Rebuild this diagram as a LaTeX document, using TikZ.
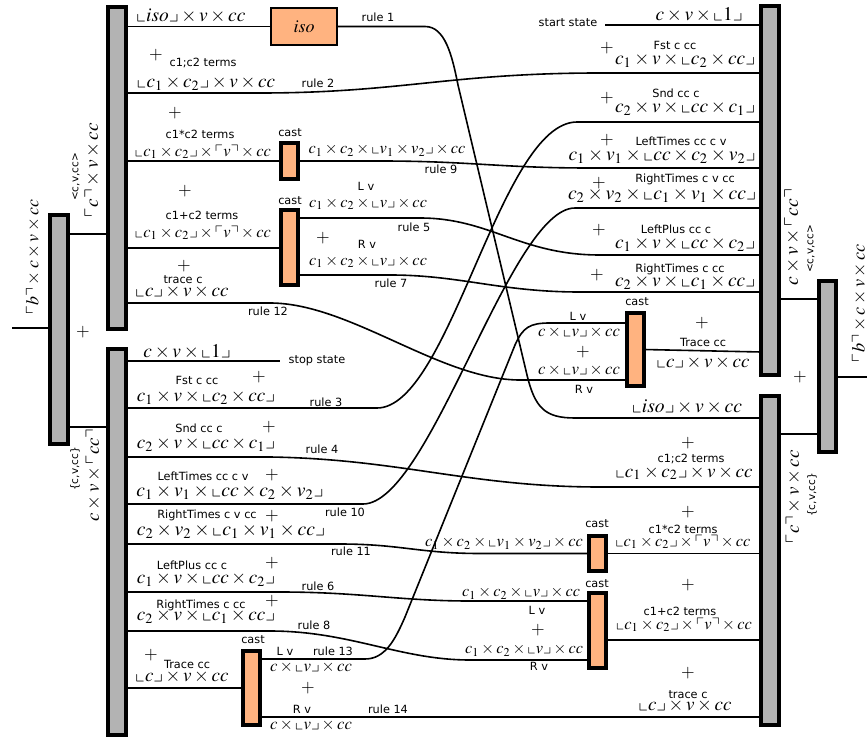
\documentclass[tikz,border=0pt]{standalone}
\usepackage{mathptmx}
\usepackage{amssymb}
\usepackage{graphicx}
\usepackage{fontspec}
\setsansfont{DejaVu Sans}
\definecolor{barfill}{RGB}{179,179,179}
\definecolor{castfill}{RGB}{255,179,128}
\newcommand{\mlab}[2]{\resizebox{#1pt}{!}{$#2$}}
\newcommand{\lc}{\llcorner}
\newcommand{\rc}{\lrcorner}
\newcommand{\ulc}{\ulcorner}
\newcommand{\urc}{\urcorner}
\begin{document}
\begin{tikzpicture}[x=1pt,y=-1pt,
  conn/.style={line width=1.6pt},
  graybar/.style={draw,fill=barfill,line width=3.5pt,inner sep=0,outer sep=0,minimum width=18pt},
  castbox/.style={draw,fill=castfill,line width=3.5pt,inner sep=0,outer sep=0,minimum width=17pt},
  isobox/.style={draw,fill=castfill,line width=1.3pt,inner sep=0,outer sep=0},
  lbl/.style={font=\sffamily\fontsize{11.3}{13}\selectfont,inner sep=0},
  slbl/.style={font=\sffamily\fontsize{10.5}{12}\selectfont,inner sep=0},
  mt/.style={inner sep=0},
  pls/.style={font=\fontsize{17.5}{20}\selectfont,inner sep=0}]
\useasboundingbox (0,0) rectangle (867,738);

% bars
\node[graybar,minimum height=229pt] (bl) at (59,329.5) {};
\node[graybar,minimum height=322pt] (ul) at (117,168) {};
\node[graybar,minimum height=386pt] (ll) at (117,542) {};
\node[graybar,minimum height=369pt] (ur) at (770,190.5) {};
\node[graybar,minimum height=329pt] (lr) at (770,560.5) {};
\node[graybar,minimum width=17pt,minimum height=171pt] (br) at (827.5,366.5) {};

% cast boxes
\node[castbox,minimum height=36pt] (c1) at (289.5,161) {};
\node[castbox,minimum height=75pt] (c2) at (289.5,247.5) {};
\node[castbox,minimum height=35pt] (c3) at (597.5,553.5) {};
\node[castbox,minimum height=75pt] (c4) at (597.5,630.5) {};
\node[castbox,minimum height=74pt] (c5) at (251.5,688) {};
\node[castbox,minimum height=73pt] (c6) at (635.5,349.5) {};
\node[isobox,minimum width=66pt,minimum height=37pt,font=\fontsize{18}{20}\selectfont] (iso) at (304,26.5) {$iso$};

% ports
\coordinate (blin) at (50,328);
\coordinate (blout) at (12,328);
\coordinate (blu) at (68,234);
\coordinate (bll) at (68,427);
\coordinate (ulin) at (108,234);
\coordinate (llin) at (108,427);
\coordinate (urout) at (779,299);
\coordinate (lrout) at (779,434);
\coordinate (bru) at (819,299);
\coordinate (brl) at (819,434);
\coordinate (brr) at (836,377);
\coordinate (brout) at (867,377);

\coordinate (ulp1) at (126,26.5);
\coordinate (ulp2) at (126,93);
\coordinate (ulp3) at (126,161);
\coordinate (ulp4) at (126,248);
\coordinate (ulp5) at (126,303);
\coordinate (llp1) at (126,361);
\coordinate (llp2) at (126,408);
\coordinate (llp3) at (126,457);
\coordinate (llp4) at (126,504);
\coordinate (llp5) at (126,544);
\coordinate (llp6) at (126,592);
\coordinate (llp7) at (126,631);
\coordinate (llp8) at (126,688);
\coordinate (urp1) at (761,25);
\coordinate (urp2) at (761,73);
\coordinate (urp3) at (761,122);
\coordinate (urp4) at (761,168);
\coordinate (urp5) at (761,208);
\coordinate (urp6) at (761,255);
\coordinate (urp7) at (761,292);
\coordinate (urp8) at (761,352);
\coordinate (lrp1) at (761,418);
\coordinate (lrp2) at (761,487);
\coordinate (lrp3) at (761,553);
\coordinate (lrp4) at (761,640);
\coordinate (lrp5) at (761,717);
\coordinate (c2L) at (298,218);
\coordinate (c2R) at (298,275);
\coordinate (c4L) at (589,601);
\coordinate (c4R) at (589,660);
\coordinate (c5L) at (260,659);
\coordinate (c5R) at (260,717);
\coordinate (c6L) at (627,323);
\coordinate (c6R) at (627,380);
\coordinate (start) at (605,25);
\coordinate (stop) at (280,361);

% connectors
\draw[conn] (blout) -- (blin);
\draw[conn] (blu) -- (ulin);
\draw[conn] (bll) -- (llin);
\draw[conn] (urout) -- (bru);
\draw[conn] (lrout) -- (brl);
\draw[conn] (brr) -- (brout);

\draw[conn] (ulp1) -- (iso.west);
\draw[conn] (iso.east) -- (425,26.5) .. controls (445,26.5) and (452,55) .. (458,85) -- (527,375) .. controls (535,408) and (545,418) .. (575,418) -- (lrp1);
\draw[conn] (ulp2) -- (260,93) .. controls (400,93) and (450,73) .. (600,73) -- (urp2);
\draw[conn] (ulp3) -- (c1.west);
\draw[conn] (c1.east) -- (380,161) .. controls (470,161) and (500,168) .. (590,168) -- (urp4);
\draw[conn] (ulp4) -- (c2.west |- ulp4);
\draw[conn] (c2L) -- (420,218) .. controls (490,218) and (520,255) .. (600,255) -- (urp6);
\draw[conn] (c2R) -- (390,275) .. controls (460,275) and (500,292) .. (580,292) -- (urp7);
\draw[conn] (ulp5) -- (270,303) .. controls (350,303) and (440,380) .. (520,380) -- (c6R);
\draw[conn] (c6.east) -- (urp8);
\draw[conn] (start) -- (urp1);
\draw[conn] (llp1) -- (stop);
\draw[conn] (llp2) -- (377,408) .. controls (450,408) and (500,122) .. (577,122) -- (urp3);
\draw[conn] (llp3) -- (270,457) .. controls (400,459) and (470,487) .. (600,487) -- (lrp2);
\draw[conn] (llp4) -- (363,504) .. controls (430,504) and (510,208) .. (575,208) -- (urp5);
\draw[conn] (llp5) -- (340,544) .. controls (400,544) and (420,553.5) .. (480,553.5) -- (c3.west);
\draw[conn] (c3.east) -- (lrp3 |- c3.east);
\draw[conn] (llp6) -- (280,592) .. controls (360,592) and (400,601) .. (470,601) -- (c4L);
\draw[conn] (llp7) -- (270,631) .. controls (350,631) and (400,660) .. (470,660) -- (c4R);
\draw[conn] (c4.east |- lrp4) -- (lrp4);
\draw[conn] (llp8) -- (c5.west);
\draw[conn] (c5L) -- (365,659) .. controls (385,659) and (395,640) .. (405,617) -- (515,345) .. controls (523,327) and (530,323) .. (550,323) -- (c6L);
\draw[conn] (c5R) -- (lrp5);

% rotated labels
\node[mt,rotate=90] (rb1) at (33,257) {\mlab{115}{\ulc b\urc\times c\times v\times cc}};
\node[slbl,rotate=90] (rs1) at (76,177) {<c,v,cc>};
\node[mt,rotate=90] (rm1) at (92,170) {\mlab{94}{\ulc c\urc\times v\times cc}};
\node[slbl,rotate=90] (rs2) at (75,469) {\{c,v,cc\}};
\node[mt,rotate=90] (rm2) at (93,475) {\mlab{93}{c\times v\times \ulc cc\urc}};
\node[mt,rotate=90] (rm3) at (792,237) {\mlab{96}{c\times v\times \ulc cc\urc}};
\node[slbl,rotate=90] (rs3) at (811,249) {<c,v,cc>};
\node[mt,rotate=90] (rm4) at (793,497) {\mlab{93}{\ulc c\urc\times v\times cc}};
\node[slbl,rotate=90] (rs4) at (812,495) {\{c,v,cc\}};
\node[mt,rotate=90] (rb2) at (859,303) {\mlab{118}{\ulc b\urc\times c\times v\times cc}};
\node[pls] (pb1) at (83,332) {$+$};
\node[pls] (pb2) at (800,377) {$+$};

% upper left labels
\node[mt] (a1) at (191,16) {\mlab{109}{\lc iso\rc\times v\times cc}};
\node[pls] (a2) at (156,55) {$+$};
\node[lbl] (a3) at (203,63) {c1;c2 terms};
\node[mt] (a4) at (206,83) {\mlab{138}{\lc c_1\times c_2\rc\times v\times cc}};
\node[pls] (a5) at (175,113) {$+$};
\node[lbl] (a6) at (200,134) {c1*c2 terms};
\node[mt] (a7) at (203,152) {\mlab{136}{\lc c_1\times c_2\rc\times \ulc v\urc\times cc}};
\node[pls] (a8) at (185,191) {$+$};
\node[lbl] (a9) at (202,215) {c1+c2 terms};
\node[mt] (a10) at (203,233) {\mlab{136}{\lc c_1\times c_2\rc\times \ulc v\urc\times cc}};
\node[pls] (a11) at (184,266) {$+$};
\node[lbl] (a12) at (183,280) {trace c};
\node[mt] (a13) at (182,292) {\mlab{93}{\lc c\rc\times v\times cc}};

% cast labels
\node[lbl] (k1) at (290,133) {cast};
\node[lbl] (k2) at (290,201) {cast};
\node[lbl] (k3) at (597,524) {cast};
\node[lbl] (k4) at (597,584) {cast};
\node[lbl] (k5) at (253,640) {cast};
\node[lbl] (k6) at (637,302) {cast};

% middle upper labels
\node[mt] (b1) at (387,150) {\mlab{157}{c_1\times c_2\times\lc v_1\times v_2\rc\times cc}};
\node[lbl] (b2) at (441,169) {rule 9};
\node[lbl] (b3) at (366,186) {L v};
\node[mt] (b4) at (368,204) {\mlab{118}{c_1\times c_2\times\lc v\rc\times cc}};
\node[lbl] (b5) at (414,227) {rule 5};
\node[pls] (b6) at (323,238) {$+$};
\node[lbl] (b7) at (367,244) {R v};
\node[mt] (b8) at (368,262) {\mlab{118}{c_1\times c_2\times\lc v\rc\times cc}};
\node[lbl] (b9) at (391,283) {rule 7};
\node[lbl] (b10) at (378,17) {rule 1};
\node[lbl] (b11) at (318,83) {rule 2};
\node[lbl] (b12) at (268,311) {rule 12};

% upper right labels
\node[lbl] (d0) at (568,23) {start state};
\node[mt] (d1) at (699,15) {\mlab{87}{c\times v\times\lc 1\rc}};
\node[pls] (d2) at (607,48) {$+$};
\node[lbl] (d3) at (675,45) {Fst c cc};
\node[mt] (d4) at (685,60) {\mlab{140}{c_1\times v\times\lc c_2\times cc\rc}};
\node[pls] (d5) at (607,98) {$+$};
\node[lbl] (d6) at (676,93) {Snd cc c};
\node[mt] (d7) at (685,108) {\mlab{140}{c_2\times v\times\lc cc\times c_1\rc}};
\node[pls] (d8) at (607,140) {$+$};
\node[lbl] (d9) at (681,141) {LeftTimes cc c v};
\node[mt] (d10) at (662,156) {\mlab{187}{c_1\times v_1\times\lc cc\times c_2\times v_2\rc}};
\node[pls] (d11) at (599,183) {$+$};
\node[lbl] (d12) at (685,179) {RightTimes c v cc};
\node[mt] (d13) at (662,195) {\mlab{188}{c_2\times v_2\times\lc c_1\times v_1\times cc\rc}};
\node[pls] (d14) at (599,230) {$+$};
\node[lbl] (d15) at (676,229) {LeftPlus cc c};
\node[mt] (d16) at (685,244) {\mlab{140}{c_1\times v\times\lc cc\times c_2\rc}};
\node[pls] (d17) at (597,275) {$+$};
\node[lbl] (d18) at (680,269) {RightTimes c cc};
\node[mt] (d19) at (685,282) {\mlab{140}{c_2\times v\times\lc c_1\times cc\rc}};

% cast6 labels
\node[lbl] (e1) at (578,316) {L v};
\node[mt] (e2) at (579,332) {\mlab{82}{c\times\lc v\rc\times cc}};
\node[pls] (e3) at (583,352) {$+$};
\node[mt] (e4) at (579,370) {\mlab{82}{c\times\lc v\rc\times cc}};
\node[lbl] (e5) at (584,389) {R v};
\node[pls] (e6) at (702,323) {$+$};
\node[lbl] (e7) at (703,342) {Trace cc};
\node[mt] (e8) at (703,363) {\mlab{93}{\lc c\rc\times v\times cc}};

% lower right labels
\node[mt] (f1) at (687,407) {\mlab{110}{\lc iso\rc\times v\times cc}};
\node[pls] (f2) at (688,443) {$+$};
\node[lbl] (f3) at (691,459) {c1;c2 terms};
\node[mt] (f4) at (684,473) {\mlab{137}{\lc c_1\times c_2\rc\times v\times cc}};
\node[pls] (f5) at (688,512) {$+$};
\node[lbl] (f6) at (683,529) {c1*c2 terms};
\node[mt] (f7) at (683,542) {\mlab{135}{\lc c_1\times c_2\rc\times \ulc v\urc\times cc}};
\node[pls] (f8) at (688,585) {$+$};
\node[lbl] (f9) at (680,611) {c1+c2 terms};
\node[mt] (f10) at (684,625) {\mlab{136}{\lc c_1\times c_2\rc\times \ulc v\urc\times cc}};
\node[pls] (f11) at (688,673) {$+$};
\node[lbl] (f12) at (688,695) {trace c};
\node[mt] (f13) at (685,706) {\mlab{93}{\lc c\rc\times v\times cc}};

% lower middle labels
\node[mt] (g1) at (504,543) {\mlab{158}{c_1\times c_2\times\lc v_1\times v_2\rc\times cc}};
\node[mt] (g2) at (521,593) {\mlab{118}{c_1\times c_2\times\lc v\rc\times cc}};
\node[lbl] (g3) at (537,610) {L v};
\node[pls] (g4) at (538,630) {$+$};
\node[mt] (g5) at (524,650) {\mlab{118}{c_1\times c_2\times\lc v\rc\times cc}};
\node[lbl] (g6) at (539,666) {R v};
\node[lbl] (g7) at (326,402) {rule 3};
\node[lbl] (g8) at (322,449) {rule 4};
\node[lbl] (g9) at (345,512) {rule 10};
\node[lbl] (g10) at (351,551) {rule 11};
\node[lbl] (g11) at (318,586) {rule 6};
\node[lbl] (g12) at (314,625) {rule 8};
\node[lbl] (g13) at (333,651) {rule 13};
\node[lbl] (g14) at (388,709) {rule 14};
\node[lbl] (g15) at (317,361) {stop state};

% lower left labels
\node[mt] (h1) at (187,352) {\mlab{87}{c\times v\times\lc 1\rc}};
\node[lbl] (h2) at (197,380) {Fst c cc};
\node[pls] (h3) at (259,377) {$+$};
\node[mt] (h4) at (206,397) {\mlab{138}{c_1\times v\times\lc c_2\times cc\rc}};
\node[lbl] (h5) at (199,428) {Snd cc c};
\node[pls] (h6) at (269,427) {$+$};
\node[mt] (h7) at (206,444) {\mlab{138}{c_2\times v\times\lc cc\times c_1\rc}};
\node[lbl] (h8) at (203,476) {LeftTimes cc c v};
\node[pls] (h9) at (272,475) {$+$};
\node[mt] (h10) at (230,492) {\mlab{187}{c_1\times v_1\times\lc cc\times c_2\times v_2\rc}};
\node[lbl] (h11) at (207,515) {RightTimes c v cc};
\node[pls] (h12) at (272,516) {$+$};
\node[mt] (h13) at (231,531) {\mlab{188}{c_2\times v_2\times\lc c_1\times v_1\times cc\rc}};
\node[lbl] (h14) at (192,565) {LeftPlus cc c};
\node[pls] (h15) at (272,563) {$+$};
\node[mt] (h16) at (206,579) {\mlab{138}{c_1\times v\times\lc cc\times c_2\rc}};
\node[lbl] (h17) at (201,605) {RightTimes c cc};
\node[pls] (h18) at (272,601) {$+$};
\node[mt] (h19) at (206,616) {\mlab{138}{c_2\times v\times\lc c_1\times cc\rc}};
\node[pls] (h20) at (151,655) {$+$};
\node[lbl] (h21) at (187,664) {Trace cc};
\node[mt] (h22) at (182,677) {\mlab{93}{\lc c\rc\times v\times cc}};

% cast5 labels
\node[lbl] (j1) at (285,651) {L v};
\node[mt] (j2) at (311,667) {\mlab{82}{c\times\lc v\rc\times cc}};
\node[pls] (j3) at (308,688) {$+$};
\node[lbl] (j4) at (302,709) {R v};
\node[mt] (j5) at (311,725) {\mlab{82}{c\times\lc v\rc\times cc}};
\end{tikzpicture}
\end{document}
